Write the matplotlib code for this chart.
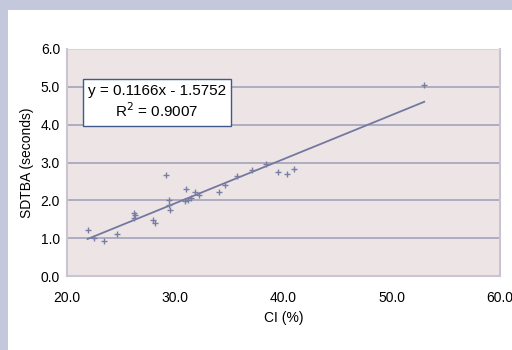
import matplotlib
matplotlib.use('Agg')
import matplotlib.pyplot as plt
from matplotlib.patches import Rectangle
import numpy as np

# CI (%) vs SDTBA (seconds)
ci = [21.9, 22.5, 23.4, 24.6, 26.15, 26.2, 26.25, 27.9, 28.1, 29.1, 29.4, 29.5,
      29.45, 30.9, 31.0, 31.2, 31.5, 31.8, 32.2, 34.0, 34.6, 35.7, 37.1, 38.4,
      39.5, 40.3, 41.0, 53.0]
sdtba = [1.22, 1.00, 0.92, 1.10, 1.53, 1.66, 1.60, 1.47, 1.40, 2.67, 2.01, 1.75,
         1.88, 1.99, 2.29, 2.01, 2.06, 2.23, 2.14, 2.21, 2.41, 2.63, 2.79, 2.97,
         2.75, 2.69, 2.84, 5.06]

slope = 0.1166
intercept = -1.5752
r2 = 0.9007

x_ticks = [20, 30, 40, 50, 60]
y_ticks = [0, 1, 2, 3, 4, 5, 6]

plt.rcParams['font.family'] = ['Liberation Sans', 'DejaVu Sans']

fig = plt.figure(figsize=(5.12, 3.5), dpi=100)
fig.patch.set_facecolor('#c3c8dc')
# white panel inside the blue-grey frame
fig.patches.append(Rectangle((8 / 512, 0), 1, 340 / 350, transform=fig.transFigure,
                             facecolor='white', edgecolor='none', zorder=-1))

ax = fig.add_axes([67 / 512, (350 - 276) / 350, (500 - 67) / 512, (276 - 49) / 350])
ax.set_facecolor('#ede5e5')

ax.set_xlim(20, 60)
ax.set_ylim(0, 6)
ax.set_xticks(x_ticks)
ax.set_yticks(y_ticks)
ax.set_xticklabels([f'{v:.1f}' for v in x_ticks], fontsize=10)
ax.set_yticklabels([f'{v:.1f}' for v in y_ticks], fontsize=10)
ax.tick_params(axis='x', length=0, pad=11)
ax.tick_params(axis='y', length=0, pad=5)

ax.yaxis.grid(True, color='#aeacc2', linewidth=1.4)
ax.set_axisbelow(True)
for side in ['left', 'right']:
    ax.spines[side].set_color('#c8c4d2')
    ax.spines[side].set_linewidth(1.5)
ax.spines['top'].set_color('#d8d4de')
ax.spines['bottom'].set_color('#c8c4d2')
ax.spines['bottom'].set_linewidth(1.5)

# trend line
xl = np.array([min(ci), max(ci)])
ax.plot(xl, slope * xl + intercept, color='#7478a0', linewidth=1.3, zorder=3)

ax.scatter(ci, sdtba, marker='+', s=14, color='#7a7ea4', linewidths=1.0, zorder=4)

ax.text(0.208, 0.765, f'y = {slope:.4f}x - {-intercept:.4f}\nR$^2$ = {r2:.4f}',
        transform=ax.transAxes, ha='center', va='center', fontsize=11,
        linespacing=1.2,
        bbox=dict(boxstyle='square,pad=0.35', facecolor='white',
                  edgecolor='#3d5a8a', linewidth=1.0))

ax.set_xlabel('CI (%)', fontsize=10, labelpad=4)
ax.set_ylabel('SDTBA (seconds)', fontsize=10, labelpad=5)

fig.savefig('out.png', dpi=100, facecolor=fig.get_facecolor())
